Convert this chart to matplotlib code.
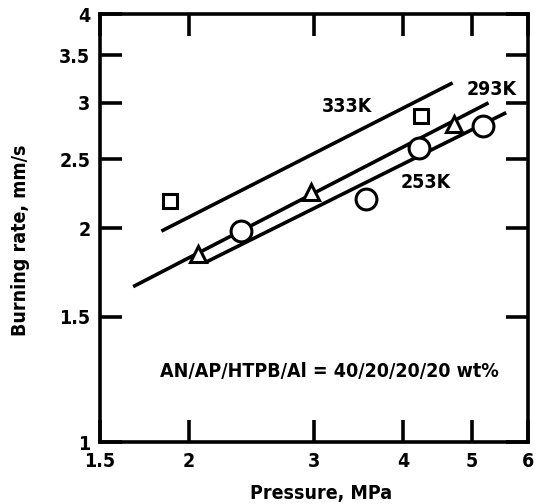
import matplotlib
matplotlib.use("Agg")
import matplotlib.pyplot as plt
from matplotlib.ticker import FixedLocator, NullLocator

plt.rcParams["font.family"] = ["DejaVu Sans", "Liberation Sans"]
plt.rcParams["font.weight"] = "bold"
plt.rcParams["font.stretch"] = "condensed"

# measured points (pressure MPa, burning rate mm/s)
p_333 = [1.88, 4.24]
r_333 = [2.18, 2.87]
p_293 = [2.06, 2.97, 4.72]
r_293 = [1.84, 2.25, 2.80]
p_253 = [2.37, 3.55, 4.21, 5.18]
r_253 = [1.98, 2.20, 2.59, 2.78]

# fitted lines (end points)
fit_p_333 = [1.83, 4.70]
fit_r_333 = [1.98, 3.20]
fit_p_293 = [1.67, 5.28]
fit_r_293 = [1.654, 3.00]
fit_p_253 = [2.12, 5.59]
fit_r_253 = [1.793, 2.906]

x_ticks = [1.5, 2, 3, 4, 5, 6]
x_labels = ["1.5", "2", "3", "4", "5", "6"]
y_ticks = [1, 1.5, 2, 2.5, 3, 3.5, 4]
y_labels = ["1", "1.5", "2", "2.5", "3", "3.5", "4"]

W, H = 544, 504
fig = plt.figure(figsize=(W / 100, H / 100), dpi=100)
ax = fig.add_axes([100 / W, 1 - 442 / H, 428 / W, 428 / H])
ax.set_xscale("log")
ax.set_yscale("log")
ax.set_xlim(1.5, 6)
ax.set_ylim(1, 4)

lw = 2.6
ax.plot(fit_p_333, fit_r_333, color="black", lw=lw, solid_capstyle="butt", zorder=2)
ax.plot(fit_p_293, fit_r_293, color="black", lw=lw, solid_capstyle="butt", zorder=2)
ax.plot(fit_p_253, fit_r_253, color="black", lw=lw, solid_capstyle="butt", zorder=2)

ax.plot(p_333, r_333, ls="none", marker="s", ms=10, mfc="white", mec="black", mew=2.2, zorder=3)
ax.plot(p_293, r_293, ls="none", marker="^", ms=12, mfc="white", mec="black", mew=2.2, zorder=3)
ax.plot(p_253, r_253, ls="none", marker="o", ms=15, mfc="white", mec="black", mew=2.2, zorder=3)

fs = 14
ax.text(3.34, 2.96, "333K", fontsize=fs, ha="center", va="center")
ax.text(5.34, 3.13, "293K", fontsize=fs, ha="center", va="center")
ax.text(4.31, 2.32, "253K", fontsize=fs, ha="center", va="center")
ax.text(0.535, 0.164, "AN/AP/HTPB/Al = 40/20/20/20 wt%", fontsize=fs,
        ha="center", va="center", transform=ax.transAxes)

ax.xaxis.set_major_locator(FixedLocator(x_ticks))
ax.xaxis.set_minor_locator(NullLocator())
ax.yaxis.set_major_locator(FixedLocator(y_ticks))
ax.yaxis.set_minor_locator(NullLocator())
ax.set_xticklabels(x_labels)
ax.set_yticklabels(y_labels)
ax.tick_params(direction="in", length=16, width=2.6, top=True, right=True,
               labelsize=fs, pad=7)

for sp in ax.spines.values():
    sp.set_linewidth(2.6)

fig.text(321 / W, 1 - 493 / H, "Pressure, MPa", fontsize=fs, ha="center", va="center")
fig.text(21 / W, 1 - 240 / H, "Burning rate, mm/s", fontsize=fs, ha="center",
         va="center", rotation=90)

fig.savefig("out.png", dpi=100)
